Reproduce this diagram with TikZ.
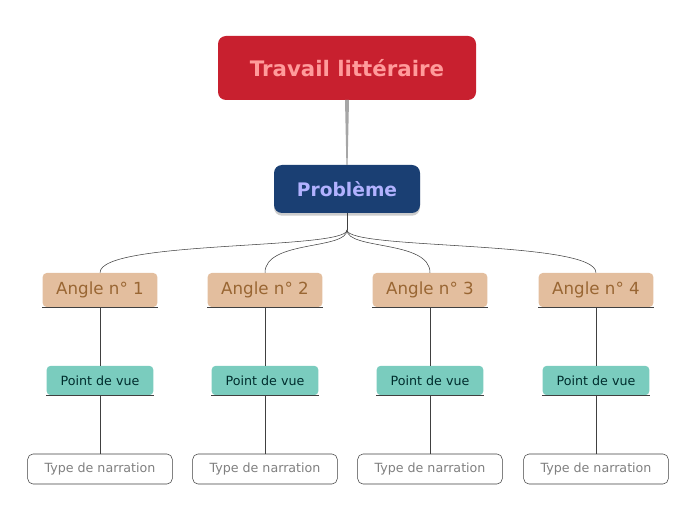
\documentclass[tikz,border=0pt]{standalone}
\usepackage{fontspec}
\setmainfont{DejaVu Sans}
\usetikzlibrary{shadows}
\definecolor{titlered}{HTML}{C8202F}
\definecolor{probblue}{HTML}{1A3F73}
\definecolor{angletan}{HTML}{E3BE9E}
\definecolor{pvteal}{HTML}{7ACCBE}
\begin{document}
\begin{tikzpicture}[x=0.75pt,y=-0.75pt,
			title node/.style = {rounded corners=6pt, fill=titlered, text=red!25!pink!90!white, font=\bfseries\fontsize{16}{18}\selectfont, minimum width=193.5pt, minimum height=48pt},
			prob node/.style = {rounded corners=6pt, fill=probblue, text=blue!30!white, font=\bfseries\fontsize{14}{16}\selectfont, minimum width=109.5pt, minimum height=36pt, drop shadow={opacity=0.4,shadow xshift=0pt,shadow yshift=-2pt}},
			angle node/.style = {rounded corners=3pt, fill=angletan, text=brown!80!black, font=\fontsize{12.5}{14}\selectfont, minimum width=86pt, minimum height=25.5pt},
			pv node/.style = {rounded corners=3pt, fill=pvteal, text=black!65!teal, font=\fontsize{9.5}{11}\selectfont, minimum width=80pt, minimum height=22pt},
			type node/.style = {rounded corners=4pt, draw=black!75, fill=white, text=black!50, font=\fontsize{9.5}{11}\selectfont, minimum width=108.5pt, minimum height=22.5pt},
			link/.style = {draw=black!75, thin}]
			
			\useasboundingbox (0,0) rectangle (696,520);
			
			\node[title node] (title) at (347,68) {Travail littéraire};
			\node[prob node] (prob) at (347,189) {Problème};
			\coordinate (hub) at (347,230);
			
			\fill[black!35] (345,100) -- (349,100) -- (347.6,165) -- (346.4,165) -- cycle;
			\draw[link] (prob.south) -- (hub);
			
			\foreach \i/\x in {1/100,2/265,3/430,4/596} {
				\node[angle node] (a\i) at (\x,290) {Angle n° \i};
				\node[pv node] (p\i) at (\x,380.5) {Point de vue};
				\node[type node] (t\i) at (\x,469) {Type de narration};
				\draw[link] (a\i.south west) -- (a\i.south east);
				\draw[link] (p\i.south west) -- (p\i.south east);
				\draw[link] (hub) .. controls (347,250) and (\x,240) .. (a\i.north);
				\draw[link] (a\i.south) -- (p\i.north);
				\draw[link] (p\i.south) -- (t\i.north);
			}
			
			\end{tikzpicture}
\end{document}
